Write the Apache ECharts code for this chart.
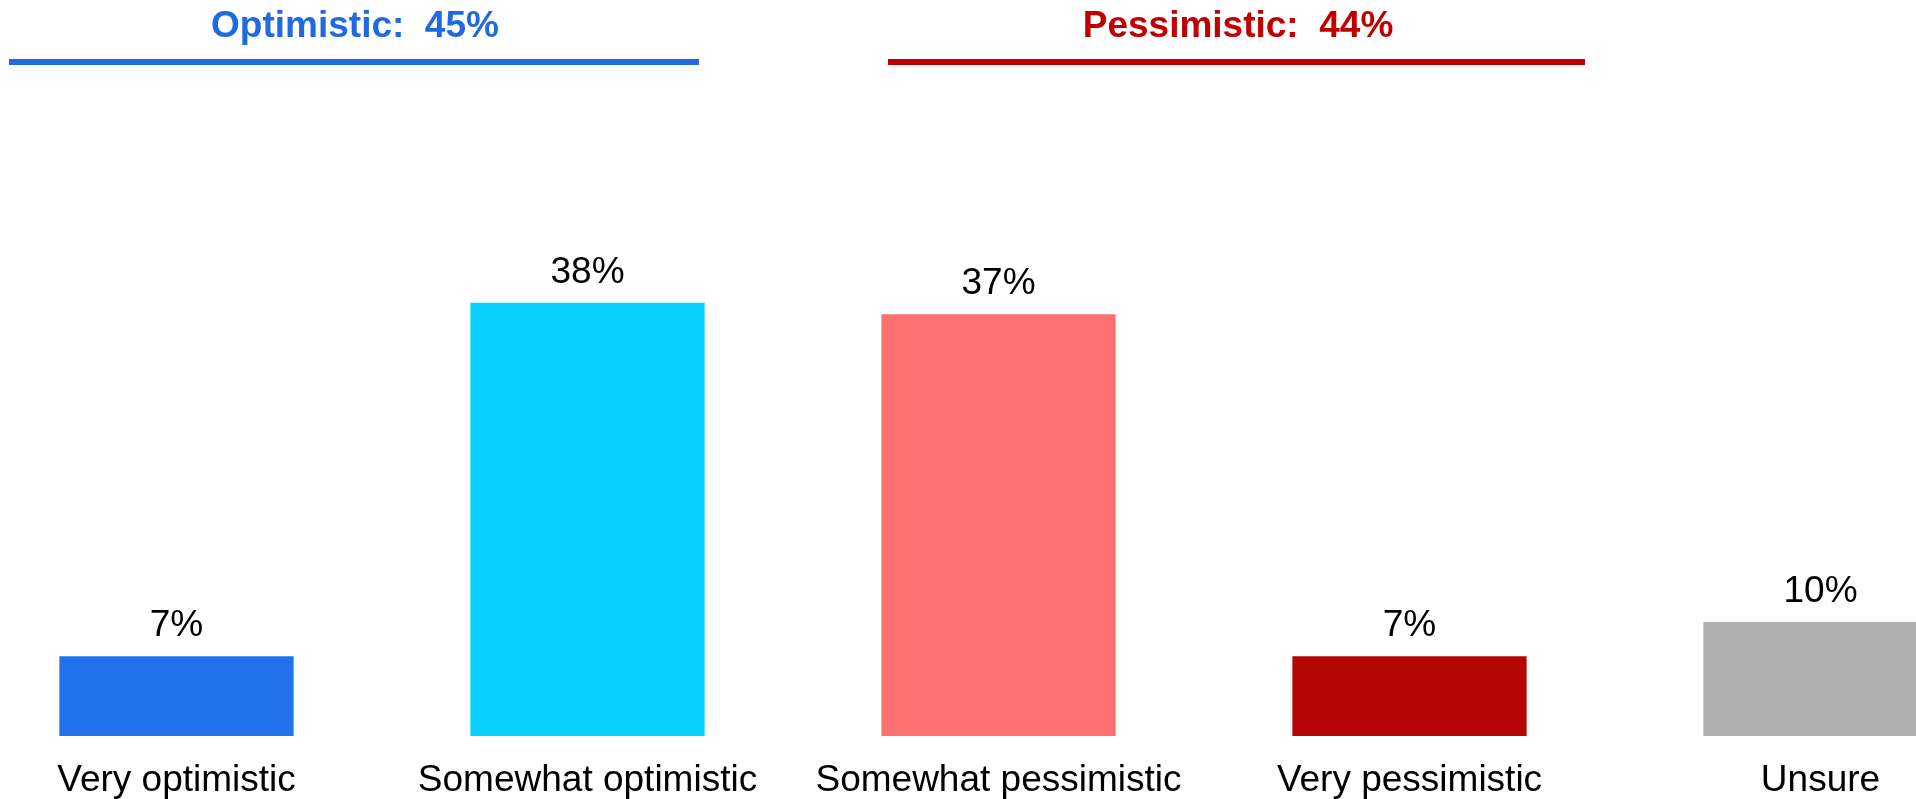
<!DOCTYPE html>
<html>
<head>
<meta charset="utf-8">
<script src="https://cdn.jsdelivr.net/npm/echarts@6/dist/echarts.min.js"></script>
<style>
html,body{margin:0;padding:0;background:#fff;overflow:hidden;width:1916px;height:799px;position:relative;}
#chart{width:2055px;height:799px;position:absolute;left:-29px;top:0;}
</style>
</head>
<body>
<div id="chart"></div>
<script>
const categories = ['Very optimistic', 'Somewhat optimistic', 'Somewhat pessimistic', 'Very pessimistic', 'Unsure'];
const values = [7, 38, 37, 7, 10];
const barColors = ['#2272EE', '#08D0FE', '#FF7070', '#B50606', '#B0B0B0'];
const groupLabels = ['Optimistic:  45%', 'Pessimistic:  44%'];
const groupColors = ['#1F6AE0', '#C00000'];

const chart = echarts.init(document.getElementById('chart'));
const font = '"Liberation Sans", Arial, sans-serif';
const ox = 29; // container offset

chart.setOption({
  animation: false,
  backgroundColor: '#ffffff',
  grid: { left: 0, right: 0, top: 166, bottom: 62, containLabel: false },
  xAxis: {
    type: 'category',
    data: categories,
    axisLine: { show: false },
    axisTick: { show: false },
    axisLabel: { interval: 0, color: '#000', fontFamily: font, fontSize: 37, margin: 26 }
  },
  yAxis: {
    type: 'value', min: 0, max: 50,
    show: false,
    splitLine: { show: false }
  },
  series: [{
    type: 'bar',
    barWidth: '57%',
    data: values.map((v, i) => ({ value: v, itemStyle: { color: barColors[i] } })),
    label: {
      show: true, position: 'top', distance: 12,
      formatter: p => p.value + '%',
      color: '#000', fontFamily: font, fontSize: 37
    }
  }],
  graphic: [
    { type: 'text', x: 355 + ox, y: 27, style: { text: groupLabels[0], fill: groupColors[0], font: 'bold 37px ' + font, textAlign: 'center', textVerticalAlign: 'middle' } },
    { type: 'text', x: 1238 + ox, y: 27, style: { text: groupLabels[1], fill: groupColors[1], font: 'bold 37px ' + font, textAlign: 'center', textVerticalAlign: 'middle' } },
    { type: 'line', shape: { x1: 9 + ox, y1: 62, x2: 699 + ox, y2: 62 }, style: { stroke: groupColors[0], lineWidth: 6 } },
    { type: 'line', shape: { x1: 888 + ox, y1: 62, x2: 1585 + ox, y2: 62 }, style: { stroke: groupColors[1], lineWidth: 6 } }
  ]
});
</script>
</body>
</html>
